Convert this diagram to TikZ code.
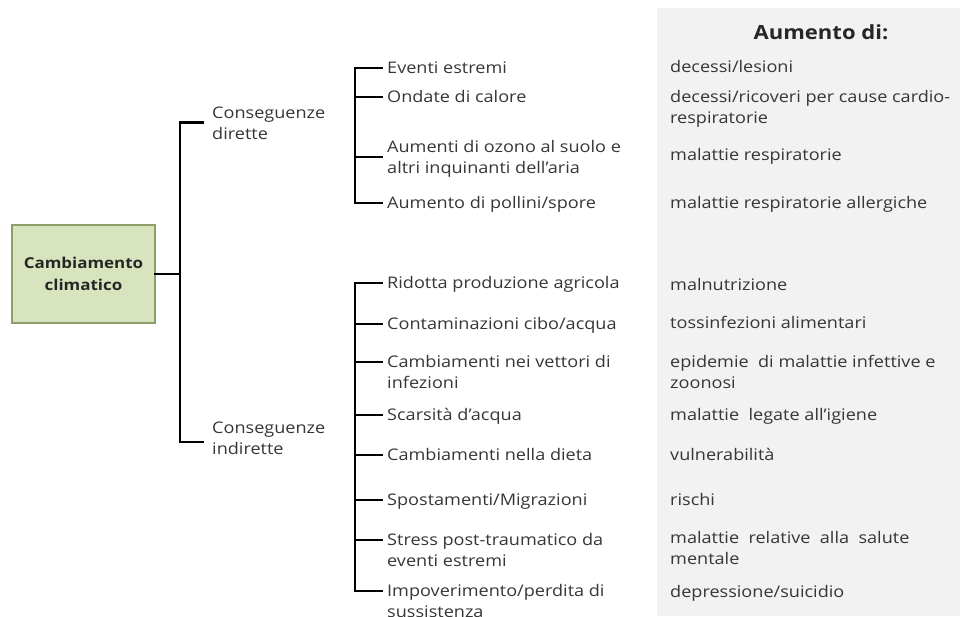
\documentclass[tikz,border=0pt]{standalone}
\usepackage{fontspec}
\setmainfont{Open Sans}[FakeStretch=1.13]
\usetikzlibrary{calc}
\definecolor{txt}{HTML}{363636}
\definecolor{boxfill}{HTML}{D7E4BD}
\definecolor{boxline}{HTML}{8E9E6A}
\definecolor{panel}{HTML}{F2F2F2}
\begin{document}
\begin{tikzpicture}[x=1pt,y=-1pt,
  lbl/.style={anchor=base west,inner sep=0pt,align=left,text=txt,
    font=\fontsize{16}{21}\selectfont},
  rootbox/.style={draw=boxline,line width=1.4pt,fill=boxfill,minimum width=143pt,
    minimum height=98pt,align=center,inner sep=2pt,text=black!85,
    font=\fontsize{15}{22}\selectfont\bfseries},
  br/.style={line width=2.6pt,black,line cap=rect,line join=miter},
  title/.style={anchor=base,inner sep=0pt,text=black!85,
    font=\fontsize{19.5}{23}\selectfont\bfseries}]
\useasboundingbox (0,0) rectangle (964,616);
% grey column behind the effects
\fill[panel] (657,8) rectangle (960,616);
\node[title] (head) at (821,39) {Aumento di:};

% root
\node[rootbox] (root) at (83.5,274) {Cambiamento\\climatico};

% second level (base = baseline of the last line)
\node[lbl] (cd) at (212,139) {Conseguenze\\dirette};
\node[lbl] (ci) at (212,454) {Conseguenze\\indirette};

% direct consequences
\node[lbl] (e1) at (387,73) {Eventi estremi};
\node[lbl] (e2) at (387,102) {Ondate di calore};
\node[lbl] (e3) at (387,173) {Aumenti di ozono al suolo e\\altri inquinanti dell’aria};
\node[lbl] (e4) at (387,208) {Aumento di pollini/spore};

\node[lbl] (r1) at (670,72) {decessi/lesioni};
\node[lbl] (r2) at (670,123) {decessi/ricoveri per cause cardio-\\respiratorie};
\node[lbl] (r3) at (670,160) {malattie respiratorie};
\node[lbl] (r4) at (670,208) {malattie respiratorie allergiche};

% indirect consequences
\node[lbl] (i1) at (387,288) {Ridotta produzione agricola};
\node[lbl] (i2) at (387,329) {Contaminazioni cibo/acqua};
\node[lbl] (i3) at (387,388) {Cambiamenti nei vettori di\\infezioni};
\node[lbl] (i4) at (387,420) {Scarsità d’acqua};
\node[lbl] (i5) at (387,460) {Cambiamenti nella dieta};
\node[lbl] (i6) at (387,505) {Spostamenti/Migrazioni};
\node[lbl] (i7) at (387,566) {Stress post-traumatico da\\eventi estremi};
\node[lbl] (i8) at (387,617) {Impoverimento/perdita di\\sussistenza};

\node[lbl] (s1) at (670,290) {malnutrizione};
\node[lbl] (s2) at (670,328) {tossinfezioni alimentari};
\node[lbl] (s3) at (670,388) {epidemie \ di malattie infettive e\\zoonosi};
\node[lbl] (s4) at (670,420) {malattie \ legate all’igiene};
\node[lbl] (s5) at (670,460) {vulnerabilità};
\node[lbl] (s6) at (670,505) {rischi};
\node[lbl] (s7) at (670,564) {malattie \ relative \ alla \ salute\\mentale};
\node[lbl] (s8) at (670,597) {depressione/suicidio};

% bracket columns
\coordinate (mx) at (180,0);
\coordinate (dx) at (355,0);

% tick ends, just left of each label
\path ([xshift=-9pt]cd.west) coordinate (cdt)
      ([shift={(-9pt,12pt)}]ci.base west) coordinate (cit);
\foreach \n in {e1,e2,e4,i1,i2,i4,i5,i6}
  \path ([shift={(-5pt,5pt)}]\n.base west) coordinate (\n t);
\foreach \n in {i3,i7,i8}
  \path ([shift={(-5pt,26pt)}]\n.base west) coordinate (\n t);
\path ([shift={(-5pt,16pt)}]e3.base west) coordinate (e3t);

% root to the two groups
\draw[br] (root.east) -- (mx |- root.east);
\draw[br] (cdt) -| (mx |- cit) -- (cit);

% direct bracket
\draw[br] (e1t) -| (dx |- e4t) -- (e4t);
\foreach \n in {e2,e3} \draw[br] (\n t) -- (dx |- \n t);

% indirect bracket
\draw[br] (i1t) -| (dx |- i8t) -- (i8t);
\foreach \n in {i2,i3,i4,i5,i6,i7} \draw[br] (\n t) -- (dx |- \n t);
\end{tikzpicture}
\end{document}
